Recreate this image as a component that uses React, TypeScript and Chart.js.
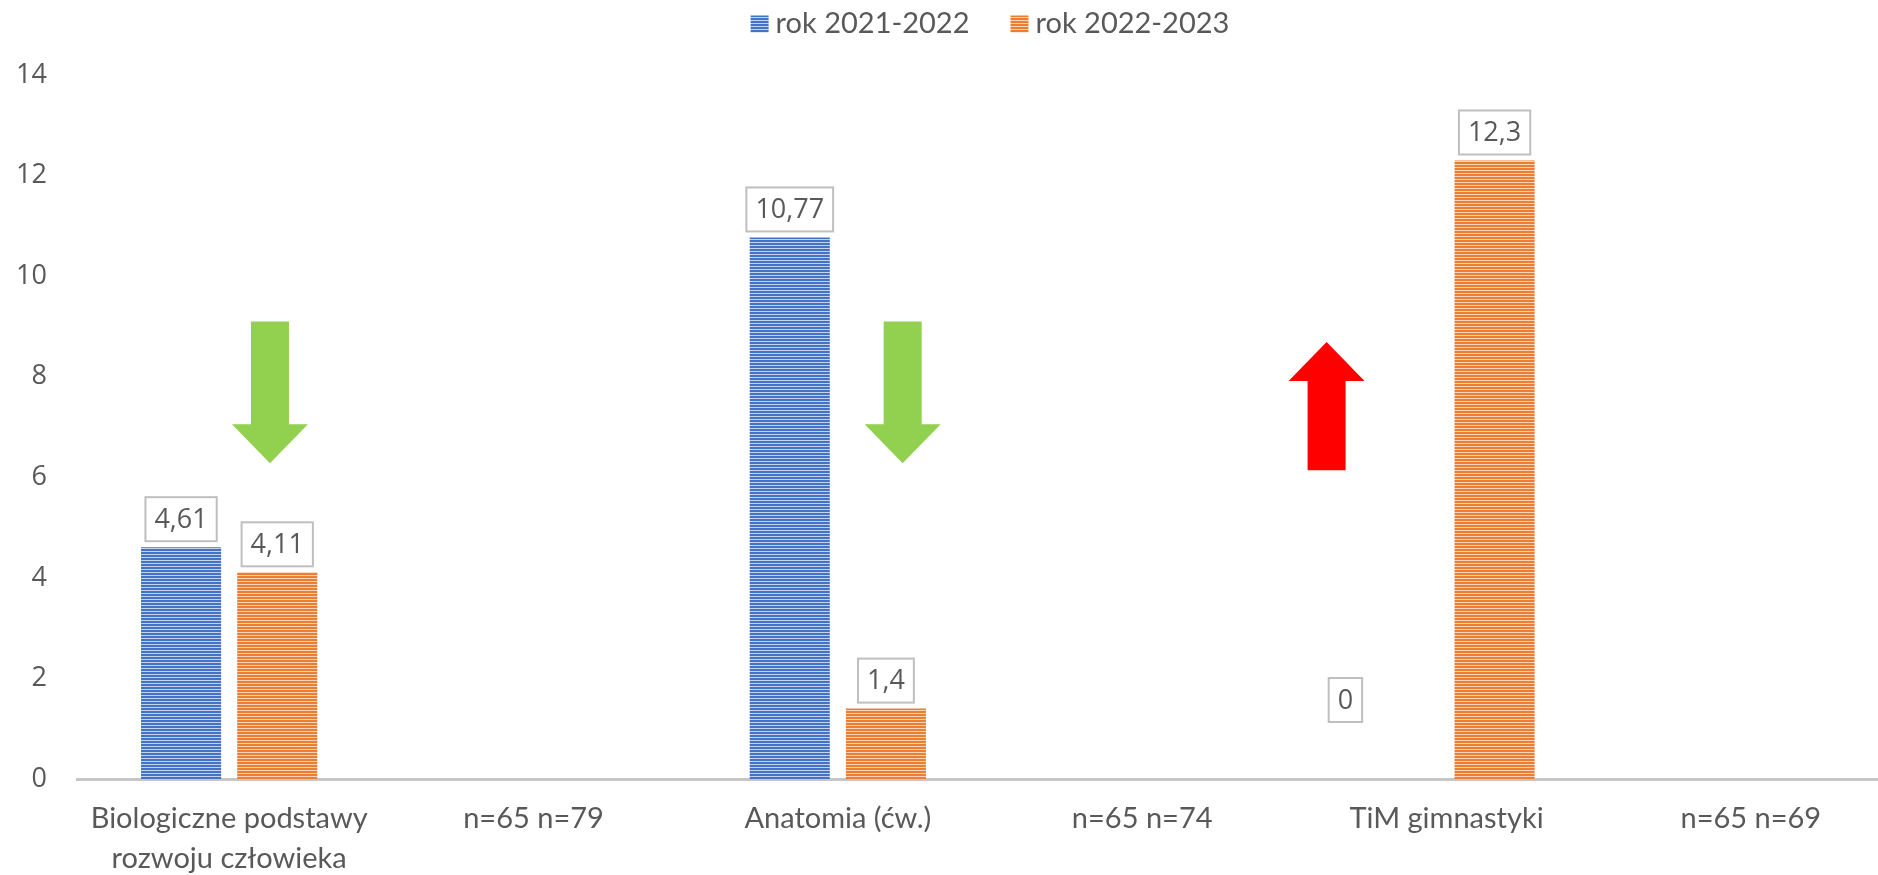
import React, { useEffect, useRef } from "react";
import { Chart, registerables } from "chart.js";

Chart.register(...registerables);

// ---------- data ----------
const categories: (string | string[])[] = [
  ["Biologiczne podstawy", "rozwoju człowieka"],
  "n=65 n=79",
  "Anatomia (ćw.)",
  "n=65 n=74",
  "TiM gimnastyki",
  "n=65 n=69",
];
const seriesNames = ["rok 2021-2022", "rok 2022-2023"];
const values2021 = [4.61, null, 10.77, null, 0, null];
const values2022 = [4.11, null, 1.4, null, 12.3, null];
const yMin = 0;
const yMax = 14;
const yStep = 2;

// annotation arrows, in data coordinates (category index, y value)
const arrowCategory = [0.134, 2.213, 3.606];
const arrowTail = [9.1, 9.1, 6.14];
const arrowTip = [6.28, 6.28, 8.69];
const arrowColors = ["#92D050", "#92D050", "#FF0000"];

// ---------- styles ----------
const BLUE = "#4472C4";
const BLUE_LIGHT = "#C3D2EE";
const ORANGE = "#ED7D31";
const ORANGE_LIGHT = "#F9D3B8";
const TEXT = "#595959";
const LABEL_FONT = "Lato";
const NUM_FONT = "Open Sans";

const labelNudges = [{ dataset: 0, index: 4, dx: -53, dy: -51 }];

function stripes(ctx: CanvasRenderingContext2D, color: string, light: string) {
  const c = document.createElement("canvas");
  c.width = 4;
  c.height = 3;
  const g = c.getContext("2d")!;
  g.fillStyle = light;
  g.fillRect(0, 0, 4, 3);
  g.fillStyle = color;
  g.fillRect(0, 0, 4, 2);
  return ctx.createPattern(c, "repeat")!;
}

const arrowPlugin = {
  id: "arrows",
  afterDatasetsDraw(chart: any) {
    const { ctx } = chart;
    const xs = chart.scales.x;
    const ys = chart.scales.y;
    const shaftHalf = 19;
    const headHalf = 38;
    const headLen = 39;
    arrowCategory.forEach((c, i) => {
      const x = xs.getPixelForValue(c);
      const yT = ys.getPixelForValue(arrowTail[i]);
      const yH = ys.getPixelForValue(arrowTip[i]);
      const dir = yH > yT ? 1 : -1;
      const yBase = yH - dir * headLen;
      ctx.save();
      ctx.fillStyle = arrowColors[i];
      ctx.beginPath();
      ctx.moveTo(x - shaftHalf, yT);
      ctx.lineTo(x + shaftHalf, yT);
      ctx.lineTo(x + shaftHalf, yBase);
      ctx.lineTo(x + headHalf, yBase);
      ctx.lineTo(x, yH);
      ctx.lineTo(x - headHalf, yBase);
      ctx.lineTo(x - shaftHalf, yBase);
      ctx.closePath();
      ctx.fill();
      ctx.restore();
    });
  },
};

const dataLabelPlugin = {
  id: "boxLabels",
  afterDatasetsDraw(chart: any) {
    const { ctx } = chart;
    ctx.save();
    ctx.font = `27px "${NUM_FONT}"`;
    ctx.textAlign = "center";
    ctx.textBaseline = "middle";
    chart.data.datasets.forEach((ds: any, di: number) => {
      const meta = chart.getDatasetMeta(di);
      meta.data.forEach((el: any, i: number) => {
        const v = ds.data[i];
        if (v === null || v === undefined) return;
        const text = String(v).replace(".", ",");
        const tw = ctx.measureText(text).width;
        const w = tw + 18;
        const h = 44;
        let cx = el.x;
        let bottom = el.y - 6;
        const n = labelNudges.find((q) => q.dataset === di && q.index === i);
        if (n) {
          cx += n.dx;
          bottom += n.dy;
        }
        const top = bottom - h;
        ctx.fillStyle = "#FFFFFF";
        ctx.fillRect(cx - w / 2, top, w, h);
        ctx.strokeStyle = "#BFBFBF";
        ctx.lineWidth = 2;
        ctx.strokeRect(cx - w / 2, top, w, h);
        ctx.fillStyle = TEXT;
        ctx.fillText(text, cx, top + h / 2 + 1);
      });
    });
    ctx.restore();
  },
};

const legendPlugin = {
  id: "customLegend",
  afterDraw(chart: any) {
    const { ctx, chartArea } = chart;
    ctx.save();
    ctx.font = `29px "${LABEL_FONT}"`;
    ctx.textBaseline = "middle";
    ctx.textAlign = "left";
    const boxW = 18;
    const boxH = 17;
    const gap = 7;
    const itemGap = 41;
    const items = chart.data.datasets.map((ds: any) => ({
      text: ds.label,
      fill: ds.backgroundColor,
      w: boxW + gap + ctx.measureText(ds.label).width,
    }));
    const total = items.reduce((s: number, it: any) => s + it.w, 0) + itemGap * (items.length - 1);
    let x = (chartArea.left + chartArea.right) / 2 - total / 2;
    const yMid = 24;
    items.forEach((it: any) => {
      ctx.fillStyle = it.fill;
      ctx.fillRect(x, yMid - boxH / 2, boxW, boxH);
      ctx.fillStyle = TEXT;
      ctx.fillText(it.text, x + boxW + gap, yMid);
      x += it.w + itemGap;
    });
    ctx.restore();
  },
};

export default function App() {
  const canvasRef = useRef<HTMLCanvasElement | null>(null);

  useEffect(() => {
    const canvas = canvasRef.current!;
    const ctx = canvas.getContext("2d")!;
    const chart = new Chart(ctx, {
      type: "bar",
      data: {
        labels: categories,
        datasets: [
          {
            label: seriesNames[0],
            data: values2021,
            backgroundColor: stripes(ctx, BLUE, BLUE_LIGHT),
            borderWidth: 0,
            categoryPercentage: 0.632,
            barPercentage: 0.833,
          },
          {
            label: seriesNames[1],
            data: values2022,
            backgroundColor: stripes(ctx, ORANGE, ORANGE_LIGHT),
            borderWidth: 0,
            categoryPercentage: 0.632,
            barPercentage: 0.833,
          },
        ],
      } as any,
      options: {
        responsive: false,
        animation: false,
        devicePixelRatio: 1,
        layout: { padding: { top: 75, right: 20, left: 0, bottom: 0 } },
        plugins: {
          legend: { display: false },
          tooltip: { enabled: false },
        },
        scales: {
          x: {
            grid: { display: false, drawTicks: false },
            border: { display: true, color: "#C6C6C6", width: 3 },
            ticks: {
              autoSkip: false,
              maxRotation: 0,
              minRotation: 0,
              padding: 20,
              color: TEXT,
              font: { family: LABEL_FONT, size: 29, lineHeight: 40 / 29 },
            },
            afterFit: (s: any) => {
              s.height = 96;
            },
          },
          y: {
            min: yMin,
            max: yMax,
            ticks: {
              stepSize: yStep,
              padding: 30,
              color: TEXT,
              font: { family: NUM_FONT, size: 27 },
            },
            grid: { display: false, drawTicks: false },
            border: { display: false },
            afterFit: (s: any) => {
              s.width = 77;
            },
          },
        },
      } as any,
      plugins: [dataLabelPlugin, arrowPlugin, legendPlugin],
    });
    return () => chart.destroy();
  }, []);

  return (
    <div
      style={{
        position: "fixed",
        left: 0,
        top: 0,
        width: 1878,
        height: 875,
        overflow: "hidden",
        background: "#FFFFFF",
      }}
    >
      <canvas ref={canvasRef} width={1923} height={875} style={{ display: "block" }} />
    </div>
  );
}
